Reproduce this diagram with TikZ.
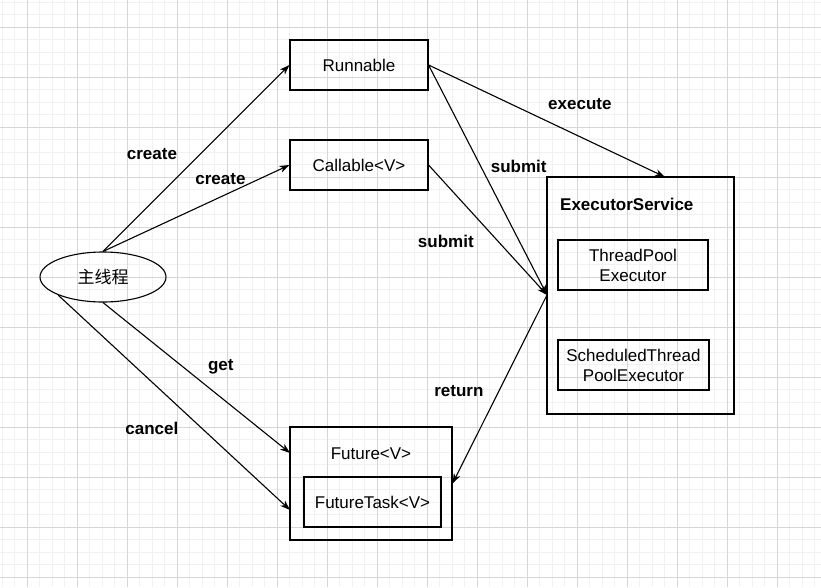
\documentclass[tikz,border=0pt]{standalone}
\usepackage{fontspec}
\setmainfont{Liberation Sans}
\newfontfamily\cjk{Noto Sans CJK SC}
\usepackage{tikz}
\usetikzlibrary{shapes}
\usetikzlibrary{arrows.meta}
\usetikzlibrary{positioning}
\definecolor{gridminor}{RGB}{241,241,241}
\definecolor{gridmajor}{RGB}{214,214,214}

\begin{document}
\begin{tikzpicture}[x=1pt, y=-1pt,
		txt/.style={font=\fontsize{17}{20}\selectfont},
		box/.style={txt, draw, line width=1.1pt, inner sep=0pt, align=center},
		lbl/.style={txt, font=\fontsize{17}{20}\selectfont\bfseries, inner sep=0pt},
		link/.style={line width=1.1pt, -{Stealth[length=10pt, width=7pt, inset=3pt]}}]
				\useasboundingbox (0,0) rectangle (821,587);
				\fill[white] (0,0) rectangle (821,587);
				% grid
				\foreach \g in {2,14.5,...,821} {
					\draw[gridminor, line width=0.6pt] (\g,0) -- (\g,587);
					\draw[gridminor, line width=0.6pt] (0,\g) -- (821,\g);
				}
				\foreach \g in {27,77,...,821} {
					\draw[gridmajor, line width=0.7pt] (\g,0) -- (\g,587);
					\draw[gridmajor, line width=0.7pt] (0,\g) -- (821,\g);
				}

				\node[box, ellipse, minimum width=126pt, minimum height=50pt] (main) at (103,277) {\cjk 主线程};
				\node[box, minimum width=138pt, minimum height=50pt] (run) at (359,65) {Runnable};
				\node[box, minimum width=138pt, minimum height=50pt] (call) at (359,165) {Callable<V>};

				\node[box, minimum width=187pt, minimum height=237pt] (es) at (640.5,295.5) {};
				\node[lbl, anchor=west] (estitle) at (560,204) {ExecutorService};
				\node[box, minimum width=150pt, minimum height=50pt] (tpe) at (633,265) {ThreadPool\\Executor};
				\node[box, minimum width=151pt, minimum height=50pt] (stpe) at (633.5,365) {ScheduledThread\\PoolExecutor};

				\node[box, minimum width=162pt, minimum height=113pt] (fut) at (371,483.5) {};
				\node[txt] (futtitle) at (371,454) {Future<V>};
				\node[box, minimum width=137pt, minimum height=50pt] (task) at (372.5,502) {FutureTask<V>};

				\coordinate (estop) at (665,177);
				\coordinate (esin) at (547,295);
				\coordinate (futget) at (290,453);
				\coordinate (futcancel) at (290,510);

				\draw[link] (main.north) -- (run.west) node[lbl, pos=0.52, xshift=-48pt] {create};
				\draw[link] (main.north) -- (call.west) node[lbl, pos=0.63, yshift=18pt] {create};
				\draw[link] (run.east) -- (estop) node[lbl, pos=0.64, yshift=33pt] {execute};
				\draw[link] (run.east) -- (esin) node[lbl, pos=0.44, xshift=38pt] {submit};
				\draw[link] (call.east) -- (esin) node[lbl, pos=0.585, xshift=-52pt] {submit};
				\draw[link] (esin) -- (fut.east) node[lbl, pos=0.51, xshift=-40pt] {return};
				\draw[link] (main.south) -- (futget) node[lbl, pos=0.63, yshift=31pt] {get};
				\draw[link] (main.202.7) -- (futcancel) node[lbl, pos=0.62, xshift=-50pt] {cancel};
			\end{tikzpicture}
\end{document}
